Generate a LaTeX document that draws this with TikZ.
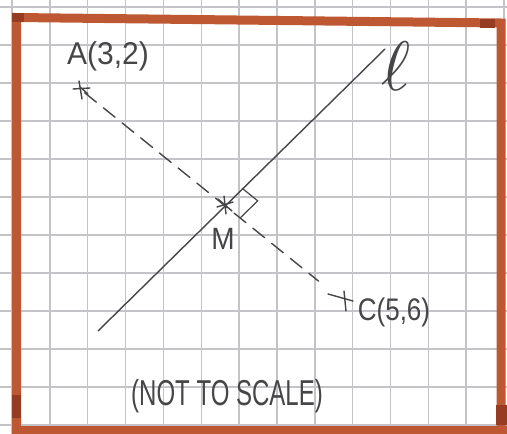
\documentclass[tikz,border=0pt]{standalone}
\usepackage{fontspec}
\setmainfont{Liberation Sans}
\usetikzlibrary{calc}
\definecolor{frame}{RGB}{190,88,50}
\definecolor{framedark}{RGB}{150,60,35}
\definecolor{gridc}{RGB}{196,196,200}
\definecolor{ink}{RGB}{70,70,72}
\tikzset{
  gridline/.style={draw=gridc, line width=1.5pt},
  frameline/.style={draw=frame, line width=9pt},
  inkline/.style={draw=ink, line width=1.4pt, line cap=round},
  dashline/.style={inkline, dash pattern=on 15pt off 9pt},
  label/.style={text=ink, inner sep=0pt},
}
\begin{document}
\begin{tikzpicture}[x=1pt,y=-1pt]
\useasboundingbox (0,0) rectangle (507,434);
\fill[white] (0,0) rectangle (507,434);
% grid
\foreach \i in {0,...,13} {
  \draw[gridline] ({12+37.85*\i},0) -- ({12+37.85*\i},434);
}
\foreach \j in {0,...,11} {
  \draw[gridline] (0,{7+38*\j}) -- (507,{7+38*\j});
}
% frame
\draw[frameline] (16.5,434) -- (16.5,17.5) -- (501,23) -- (501,434);
\draw[frameline] (12,430) -- (507,430);
\fill[framedark] (12,13) rectangle (24,22);
\fill[framedark] (480,19) rectangle (495,28);
\fill[framedark] (12,395) rectangle (21,418);
\fill[framedark] (496,405) rectangle (507,425);
% points
\coordinate (A) at (80,89);
\coordinate (M) at (225,205);
\coordinate (C) at (342,300);
\coordinate (l1) at (98,331);
\coordinate (l2) at (385,49);
% line l
\draw[inkline] (l1) -- (l2);
% dashed line A to C
\draw[dashline, shorten >=30pt, shorten <=6pt] (A) -- (C);
% right angle mark
\draw[inkline, line width=1.2pt]
  ($(M)!24pt!(l2)$) -- ($($(M)!24pt!(l2)$)+($(M)!20pt!(C)-(M)$)$) -- ($(M)!20pt!(C)$);
% crosses
\draw[inkline] ($(A)+(-7,0)$) -- ($(A)+(10,-1)$);
\draw[inkline] ($(A)+(-1,-8)$) -- ($(A)+(2,10)$);
\draw[inkline] ($(A)+(0,-2)$) -- ($(A)+(8,5)$);
\draw[inkline] ($(C)+(-14,-6)$) -- ($(C)+(11,1)$);
\draw[inkline] ($(C)+(2,-9)$) -- ($(C)+(4,11)$);
\draw[inkline] ($(M)+(-7,-6)$) -- ($(M)+(7,6)$);
\draw[inkline] ($(M)+(-1,-9)$) -- ($(M)+(1,9)$);
\draw[inkline] ($(M)+(-8,2)$) -- ($(M)+(8,-3)$);
% labels
\node[label, font=\fontsize{30}{30}\selectfont, yscale=1.05] (Alab) at (108,56) {A(3,2)};
\node[label, font=\fontsize{26}{26}\selectfont, yscale=1.2] (Clab) at (394,312) {C(5,6)};
\node[label, font=\fontsize{28}{28}\selectfont, yscale=1.1] (Mlab) at (223,239) {M};
\node[label, scale=7] (llab) at (396,66) {$\ell$};
\node[label, font=\fontsize{24}{24}\selectfont, yscale=1.5] (note) at (227,396) {(NOT TO SCALE)};
\end{tikzpicture}
\end{document}
